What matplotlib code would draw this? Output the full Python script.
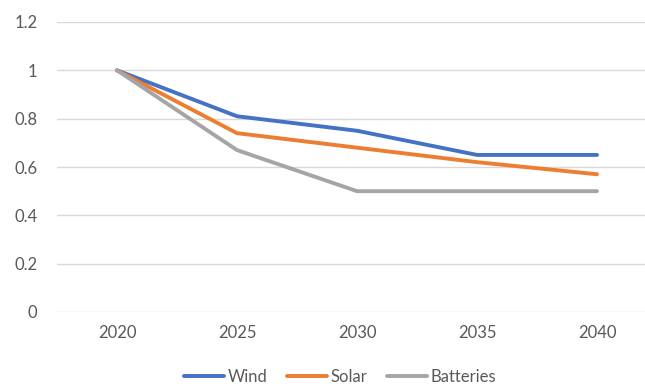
import matplotlib
matplotlib.use("Agg")
import matplotlib.pyplot as plt

# Datos
years = ["2020", "2025", "2030", "2035", "2040"]
wind = [1.0, 0.81, 0.75, 0.65, 0.65]
solar = [1.0, 0.74, 0.68, 0.62, 0.57]
batteries = [1.0, 0.67, 0.50, 0.50, 0.50]
yticks = [0, 0.2, 0.4, 0.6, 0.8, 1, 1.2]
ytick_labels = ["0", "0.2", "0.4", "0.6", "0.8", "1", "1.2"]

plt.rcParams["font.family"] = ["Lato", "DejaVu Sans"]
txt = "#595959"

fig = plt.figure(figsize=(6.45, 3.87), dpi=100)
ax = fig.add_axes([57 / 645, 75 / 387, 600 / 645, 290 / 387])

x = range(len(years))
ax.plot(x, wind, color="#4472C4", lw=2.8, label="Wind", solid_capstyle="round")
ax.plot(x, solar, color="#ED7D31", lw=2.8, label="Solar", solid_capstyle="round")
ax.plot(x, batteries, color="#A5A5A5", lw=2.8, label="Batteries", solid_capstyle="round")

ax.set_xlim(-0.5, 4.5)
ax.set_ylim(0, 1.2)
ax.set_xticks(list(x))
ax.set_xticklabels(years)
ax.set_yticks(yticks)
ax.set_yticklabels(ytick_labels)
ax.tick_params(length=0, colors=txt, labelsize=12)
ax.tick_params(axis="y", pad=14)
ax.tick_params(axis="x", pad=9)
ax.grid(axis="y", color="#D9D9D9", lw=1)
ax.set_axisbelow(True)
for s in ax.spines.values():
    s.set_visible(False)

leg = fig.legend(loc="center", bbox_to_anchor=(340 / 645, 1 - 377 / 387), ncol=3,
                 frameon=False, fontsize=12, handlelength=2.4, handletextpad=0.25,
                 columnspacing=1.15, labelcolor=txt)

fig.savefig("out.png", dpi=100)
